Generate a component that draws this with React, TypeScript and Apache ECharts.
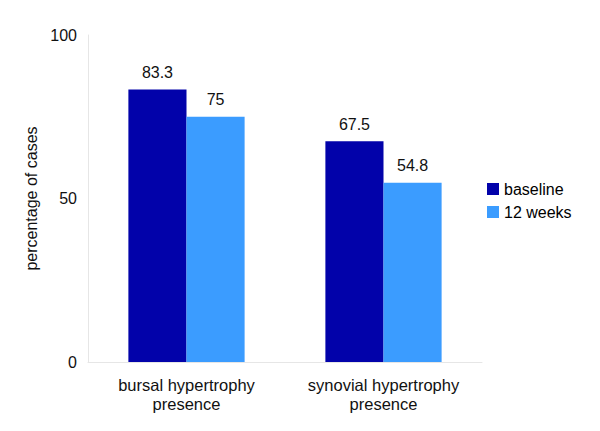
import React, { useEffect, useRef } from "react";
import * as echarts from "echarts";

const categories = ["bursal hypertrophy\npresence", "synovial hypertrophy\npresence"];
const baseline = [83.3, 67.5];
const weeks12 = [75, 54.8];
const seriesNames = ["baseline", "12 weeks"];

export default function App() {
  const ref = useRef<HTMLDivElement>(null);
  useEffect(() => {
    const chart = echarts.init(ref.current!, null, { renderer: "svg" });
    const font = "Liberation Sans, Arial, sans-serif";
    chart.setOption({
      animation: false,
      textStyle: { fontFamily: font },
      grid: { left: 88, right: 118, top: 35, bottom: 69 },
      legend: {
        orient: "vertical",
        left: 482,
        top: 176,
        itemWidth: 12,
        itemHeight: 12,
        itemGap: 7,
        icon: "rect",
        textStyle: { fontSize: 16, color: "#000", fontFamily: font },
        data: seriesNames,
      },
      xAxis: {
        type: "category",
        data: categories,
        axisLine: { lineStyle: { color: "#e6e6e6" } },
        axisTick: { show: false },
        axisLabel: { fontSize: 16.5, color: "#111", margin: 13, lineHeight: 19, fontFamily: font },
      },
      yAxis: {
        type: "value",
        min: 0,
        max: 100,
        interval: 50,
        name: "percentage of cases",
        nameLocation: "middle",
        nameGap: 49,
        nameTextStyle: { fontSize: 16, color: "#111", fontFamily: font },
        axisLine: { show: true, lineStyle: { color: "#e6e6e6" } },
        axisTick: { show: false },
        splitLine: { show: false },
        axisLabel: { fontSize: 16, color: "#111", margin: 11, fontFamily: font },
      },
      series: [
        {
          name: seriesNames[0],
          type: "bar",
          data: baseline,
          barGap: "0%",
          barCategoryGap: "41%",
          itemStyle: { color: "#0202aa" },
          label: { show: true, position: "top", distance: 9, fontSize: 16, color: "#111", fontFamily: font },
        },
        {
          name: seriesNames[1],
          type: "bar",
          data: weeks12,
          barGap: "0%",
          barCategoryGap: "41%",
          itemStyle: { color: "#3b9cff" },
          label: { show: true, position: "top", distance: 9, fontSize: 16, color: "#111", fontFamily: font },
        },
      ],
    });
    return () => chart.dispose();
  }, []);
  return <div ref={ref} style={{ width: 600, height: 431, margin: -8 }} />;
}
